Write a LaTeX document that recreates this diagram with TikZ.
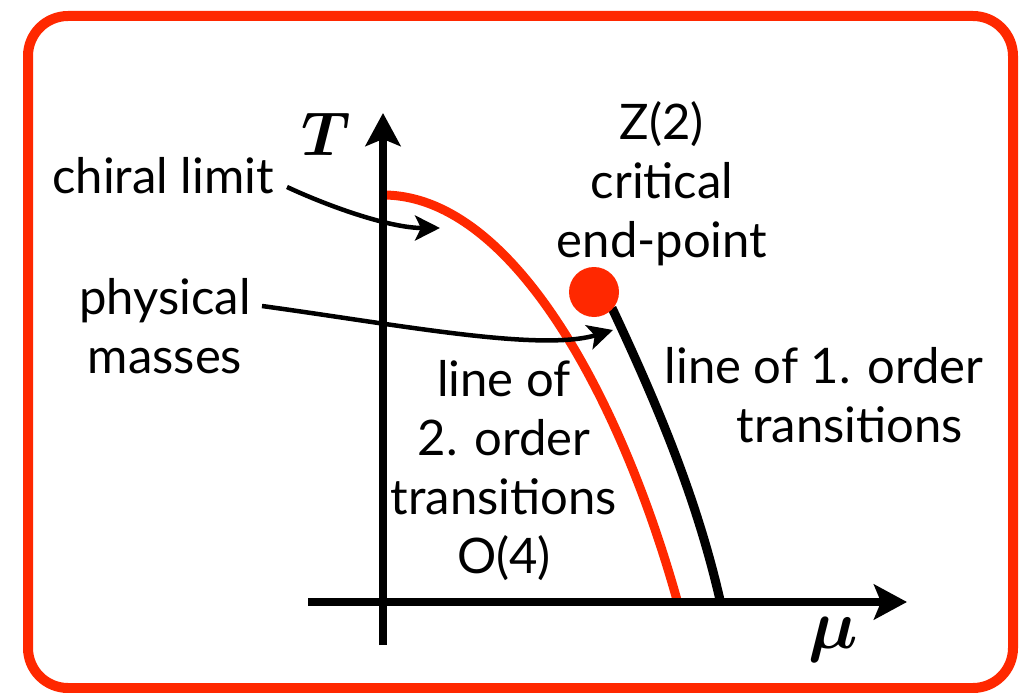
\documentclass[tikz,border=0pt]{standalone}
\usepackage{fix-cm}
\usepackage{fontspec}
\setmainfont{Lato}
\usepackage{bm}
\usetikzlibrary{arrows.meta}
\definecolor{fred}{RGB}{255,40,0}
\begin{document}
\begin{tikzpicture}[x=1pt,y=-1pt,
  lbl/.style={font=\fontsize{49}{59}\selectfont, inner sep=0pt, align=center},
  axisline/.style={line width=7.5pt, -{Stealth[length=33pt,width=35pt,inset=7pt]}},
  ptr/.style={line width=4.5pt, -{Stealth[length=25pt,width=25pt,inset=6pt]}},
  phaseline/.style={line width=9pt},
  frame/.style={draw=fred, line width=10pt, rounded corners=40pt}
]
\useasboundingbox (0,0) rectangle (1029,693);
\draw[frame] (28,16) rectangle (1013,688);

% phase lines
\coordinate (redtop) at (383,195);
\coordinate (redbot) at (677,600);
\coordinate (blkbot) at (720,600);
\coordinate (blktop) at (612,308);
\draw[phaseline, fred] (redtop) .. controls (513,195) and (621,400) .. (redbot);
\draw[phaseline, black] (blktop) .. controls (659,408) and (697,500) .. (blkbot);
\node[circle, fill=fred, minimum size=50pt, inner sep=0pt] (cep) at (594,292) {};

% axes
\coordinate (tbot) at (383,645);
\coordinate (ttop) at (383,113);
\coordinate (mleft) at (308,602);
\coordinate (mright) at (907,602);
\draw[axisline] (tbot) -- (ttop);
\draw[axisline] (mleft) -- (mright);
\node[font=\fontsize{62}{70}\selectfont, inner sep=0pt] (T) at (326,134) {$\bm{T}$};
\node[font=\fontsize{70}{80}\selectfont, inner sep=0pt] (mu) at (833,640) {$\bm{\mu}$};

% labels (base = baseline of last line)
\node[lbl, anchor=base] (chiral) at (163,193) {chiral limit};
\node[lbl, anchor=base] (phys) at (165,373) {physical\\masses};
\node[lbl, anchor=base] (zcep) at (662,257) {Z(2)\\critical\\end-point};
\node[lbl, anchor=base] (second) at (504,573) {line of\\2. order\\transitions\\O(4)};
\node[lbl, anchor=base] (first) at (824,442) {line of 1. order\\\hspace*{52pt}transitions};

% pointers
\coordinate (chS) at (287,187);
\coordinate (chE) at (440,228);
\coordinate (phS) at (262,306);
\coordinate (phE) at (613,330);
\draw[ptr] (chS) .. controls (330,207) and (390,228) .. (chE);
\draw[ptr] (phS) .. controls (400,325) and (540,352) .. (phE);
\end{tikzpicture}
\end{document}
